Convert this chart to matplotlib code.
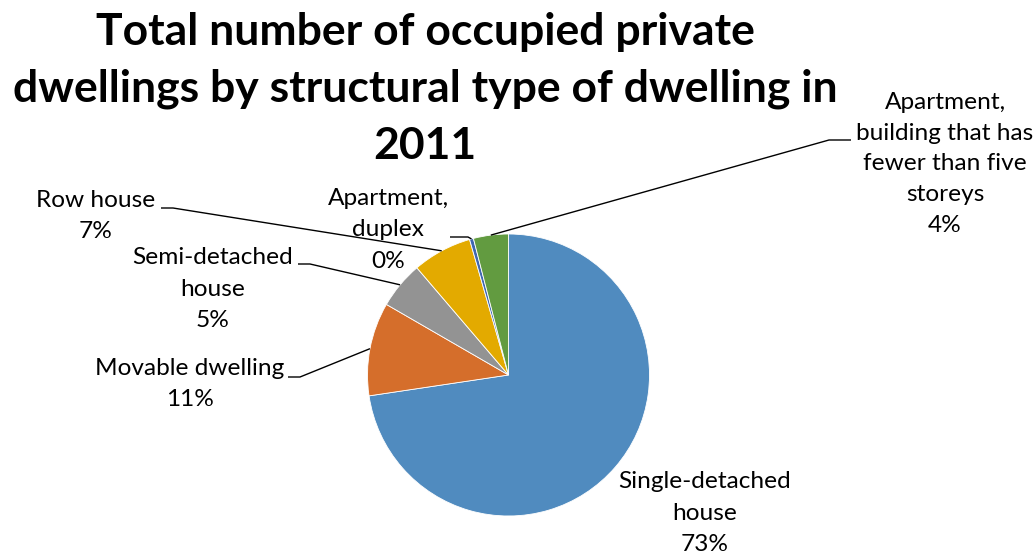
import matplotlib
matplotlib.use("Agg")
import matplotlib.pyplot as plt
import numpy as np

plt.rcParams['font.family'] = ['Lato', 'DejaVu Sans']

categories = ["Single-detached\nhouse", "Movable dwelling", "Semi-detached\nhouse",
              "Row house", "Apartment,\nduplex",
              "Apartment,\nbuilding that has\nfewer than five\nstoreys"]
values = [72.6, 10.7, 5.4, 6.8, 0.45, 4.0]
pct_labels = ["73%", "11%", "5%", "7%", "0%", "4%"]
colors = ["#508BBF", "#D56E2B", "#939393", "#E3AA00", "#3F67B0", "#629B40"]

title = "Total number of occupied private\ndwellings by structural type of dwelling in\n2011"

W, H = 1036, 554
fig = plt.figure(figsize=(W / 100, H / 100), dpi=100)
ax = fig.add_axes([0, 0, 1, 1])

cx, cy, R = 508.5, H - 375, 141
wedges, _ = ax.pie(values, colors=colors, startangle=90, counterclock=False,
                   center=(cx, cy), radius=R, frame=True,
                   wedgeprops=dict(linewidth=0.6, edgecolor='white'))
ax.set_xlim(0, W)
ax.set_ylim(0, H)
ax.set_aspect('equal')
ax.axis('off')

ax.text(425, H - 89, title, ha='center', va='center', fontsize=32,
        fontweight='bold', linespacing=1.5, color='black')

# label layout: (text centre x, text centre y in pixels from top, leader elbow)
layout = [
    (705, 513, None),
    (190, 384, (288, 300, 377)),
    (213, 289, (298, 310, 264)),
    (96, 216, (161, 173, 208)),
    (388, 230, (450, 468, 237)),
    (945, 164, (851, 829, 140)),
]

for w, cat, pct, (tx, ty, leader) in zip(wedges, categories, pct_labels, layout):
    ls = 1.58 if cat.count("\n") >= 3 else 1.6
    ax.text(tx, H - ty, cat + "\n" + pct, ha='center', va='center', fontsize=17.6,
            linespacing=ls, color='black')
    if leader is not None:
        mid = np.deg2rad((w.theta1 + w.theta2) / 2)
        px, py = cx + R * np.cos(mid), cy + R * np.sin(mid)
        x0, x1, ly = leader
        ax.plot([x0, x1, px], [H - ly, H - ly, py], color='black', lw=1.0,
                solid_capstyle='butt')

fig.savefig("out.png", dpi=100)
